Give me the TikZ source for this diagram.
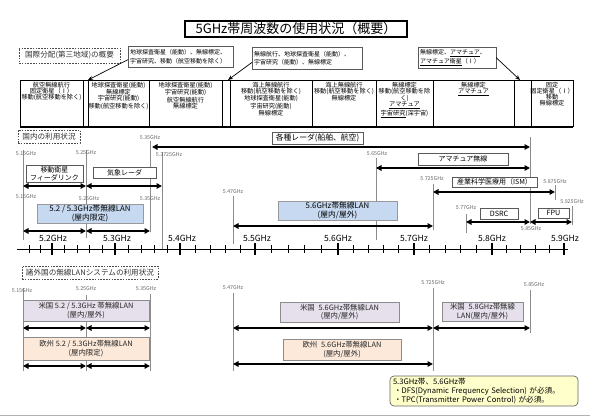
\documentclass[tikz,border=0pt]{standalone}
\usepackage{fontspec}
\setmainfont{Noto Sans CJK JP}
\usetikzlibrary{arrows.meta,calc}
\definecolor{lanblue}{HTML}{C6D9F1}
\definecolor{uslav}{HTML}{E6E0EC}
\definecolor{eupeach}{HTML}{FDE9D9}
\definecolor{noteyel}{HTML}{FFFFCC}
\newcommand{\fs}[2]{\fontsize{#1}{#2}\selectfont}
\newcommand{\farrow}[4]{\coordinate (#1-l) at (#2,#4); \coordinate (#1-r) at (#3,#4); \draw[dar] (#1-l) -- (#1-r);}
\begin{document}
\begin{tikzpicture}[x=1pt,y=-1pt,
  every node/.style={inner sep=0pt,outer sep=0pt},
  fl/.style={font=\fs{5.3}{6}, text=black!60},
  vl/.style={draw=black!45, line width=0.7pt},
  dar/.style={line width=1.4pt, >={Triangle[length=5.5pt,width=5.5pt]}, <->},
  bx/.style={draw=black!65, line width=0.6pt, fill=white, anchor=north west, align=center, font=\fs{7}{8}},
  lanbx/.style={bx, fill=lanblue, draw=black!40, font=\fs{7.8}{8.8}},
  usbx/.style={bx, fill=uslav, draw=black!45, font=\fs{7.4}{8.6}, text=black!85},
  eubx/.style={bx, fill=eupeach, draw=black!45, font=\fs{7.4}{8.6}, text=black!85},
  dbox/.style={draw=black!70, dash pattern=on 1.6pt off 1.2pt, line width=0.7pt, anchor=north west, font=\fs{7.6}{8}, text=black!80},
  allocbx/.style={draw=black!65, line width=0.6pt, anchor=north west, align=left, font=\fs{6}{8.5}, inner xsep=2pt},
  tcol/.style={anchor=north, align=center, font=\fs{6.2}{6.1}},
  axl/.style={font=\fs{8.5}{9}},
  parr/.style={line width=0.7pt, -{Stealth[length=5pt,width=4pt]}},
]
\useasboundingbox (0,0) rectangle (590,417);

% title
\node[draw, line width=1.2pt, minimum width=222pt, minimum height=16pt, anchor=north west, font=\fs{13}{14}] (title) at (185,21) {5GHz帯周波数の使用状況（概要）};

% international allocation
\node[dbox, minimum width=101pt, minimum height=15pt] (intl) at (19,48) {国際分配(第三地域)の概要};
\node[allocbx, text width=101pt, minimum height=21pt] (allocA) at (128,46) {地球探査衛星（能動）、無線標定、\\宇宙研究、移動（航空移動を除く）};
\node[allocbx, text width=106pt, minimum height=22pt] (allocB) at (252,47) {無線航行、地球探査衛星（能動）、\\宇宙研究（能動）、無線標定};
\node[allocbx, text width=74pt, minimum height=21pt] (allocC) at (418,47) {無線標定、\underline{アマチュア}、\\\underline{アマチュア衛星}（Ⅰ）};
\coordinate (tA) at (88,80);
\coordinate (tB) at (228,80);
\coordinate (tC) at (520,80);
\draw[parr] ($(allocA.south west)!0.35!(allocA.north west)$) -- (tA);
\draw[parr] ($(allocB.south west)!0.3!(allocB.north west)$) -- (tB);
\draw[parr] (allocC.east) -- (tC);

% table
\draw[line width=0.8pt] (20,80) -- (573,80);
\draw[line width=1.6pt] (20,127) -- (573,127);
\foreach \x in {20,83,88,149,222,230,312,376,433,514,531,573} \draw[line width=0.8pt] (\x,80) -- (\x,127);
\node[tcol] (c1) at (51.5,82) {航空無線航行\\固定衛星（Ⅰ）\\移動(航空移動を除く)};
\node[tcol] (c2) at (118.5,82) {地球探査衛星(能動)\\無線標定\\宇宙研究(能動)\\移動(航空移動を除く)};
\node[tcol] (c3) at (185.5,82) {地球探査衛星(能動)\\宇宙研究(能動)\\航空無線航行\\無線標定};
\node[tcol] (c4) at (271,82) {海上無線航行\\移動(航空移動を除く)\\地球探査衛星(能動)\\宇宙研究(能動)\\無線標定};
\node[tcol] (c5) at (344,82) {海上無線航行\\移動(航空移動を除く)\\無線標定};
\node[tcol] (c6) at (404.5,82) {無線標定\\移動(航空移動を除\\く)\\\underline{アマチュア}\\\underline{宇宙研究}(深宇宙)};
\node[tcol] (c7) at (473.5,82) {無線標定\\\underline{アマチュア}};
\node[tcol] (c9) at (552,82) {固定\\固定衛星（Ⅰ）\\移動\\無線標定};

% domestic
\node[dbox, minimum width=62pt, minimum height=13pt] (dom) at (18,130) {国内の利用状況};

\draw[vl] (23,150) -- (23,240);
\draw[vl] (86,150) -- (86,238);
\draw[vl] (150,141) -- (150,232);
\draw[vl] (162,152) -- (162,249);
\draw[vl] (233,196) -- (233,244);
\draw[vl] (376,158) -- (376,240);
\draw[vl] (433,184) -- (433,230);
\draw[vl] (466,214) -- (466,233);
\draw[vl] (530,137) -- (530,224);
\draw[vl] (555,185) -- (555,200);
\draw[vl] (572,206) -- (572,225);

\node[fl] (l1) at (150,138) {5.35GHz};
\node[fl] (l2) at (26,154) {5.15GHz};
\node[fl] (l3) at (86,153) {5.25GHz};
\node[fl] (l4) at (169,155) {5.3725GHz};
\node[fl] (l5) at (377,154) {5.65GHz};
\node[fl] (l6) at (432,179) {5.725GHz};
\node[fl] (l7) at (555,182) {5.875GHz};
\node[fl] (l8) at (26,197) {5.15GHz};
\node[fl] (l9) at (89,199) {5.25GHz};
\node[fl] (l10) at (150,199) {5.35GHz};
\node[fl] (l11) at (233,192) {5.47GHz};
\node[fl] (l12) at (572,202) {5.925GHz};
\node[fl] (l13) at (466,208) {5.77GHz};
\node[fl] (l14) at (531,229) {5.85GHz};

\node[bx, minimum width=91pt, minimum height=12pt, font=\fs{7.8}{8}] (radar) at (272,132) {各種レーダ(船舶、航空)};
\node[bx, minimum width=57pt, minimum height=17pt] (mss) at (26,165) {移動衛星\\フィーダリンク};
\node[bx, minimum width=63pt, minimum height=11pt] (wx) at (93,167) {気象レーダ};
\node[bx, minimum width=90pt, minimum height=12pt] (ama) at (418,153) {アマチュア無線};
\node[bx, minimum width=85pt, minimum height=10pt] (ism) at (452,177) {産業科学医療用（ISM）};
\node[bx, minimum width=38pt, minimum height=11pt, font=\fs{7.2}{8}] (dsrc) at (480,208) {DSRC};
\node[bx, minimum width=31pt, minimum height=10pt, font=\fs{7.2}{8}] (fpu) at (538,208) {FPU};
\node[lanbx, minimum width=106pt, minimum height=19pt] (lan1) at (37,204) {5.2 / 5.3GHz帯無線LAN\\(屋内限定)};
\node[lanbx, minimum width=119pt, minimum height=19pt] (lan2) at (278,201) {5.6GHz帯無線LAN\\(屋内/屋外)};

\farrow{radar}{152}{530}{147}
\farrow{amat}{376}{530}{168}
\farrow{mssa}{23}{86}{186}
\farrow{wxa}{86}{162}{186}
\farrow{isma}{433}{555}{192}
\farrow{dsrca}{466}{530}{222}
\farrow{fpua}{530}{572}{222}
\farrow{lanA}{23}{86}{231}
\farrow{lanB}{86}{150}{231}
\farrow{lanC}{233}{433}{226}

% axis
\draw[line width=0.9pt] (17,249) -- (568,249);
\foreach \x in {52,115,180,255,338,414,492,564} \draw[line width=1.5pt] (\x,243) -- (\x,255);
\foreach \x in {29,40.5} \draw[line width=0.7pt] (\x,245) -- (\x,253);
\foreach \a/\b in {52/115,115/180,180/255,255/338,338/414,414/492,492/564}
  \foreach \k in {1,2,3,4} \draw[line width=0.7pt] ({\a+\k*(\b-\a)/5},245) -- ({\a+\k*(\b-\a)/5},253);
\node[axl] (g52) at (53,238) {5.2GHz};
\node[axl] (g53) at (117,238) {5.3GHz};
\node[axl] (g54) at (182,238) {5.4GHz};
\node[axl] (g55) at (257,238) {5.5GHz};
\node[axl] (g56) at (338,238) {5.6GHz};
\node[axl] (g57) at (414,238) {5.7GHz};
\node[axl] (g58) at (492,238) {5.8GHz};
\node[axl] (g59) at (565,238) {5.9GHz};

% foreign
\node[dbox, minimum width=136pt, minimum height=13pt] (frn) at (22,266) {諸外国の無線LANシステムの利用状況};
\draw[vl] (23,288) -- (23,371);
\draw[vl] (86,295) -- (86,371);
\draw[vl] (150,294) -- (150,371);
\draw[vl] (233,293) -- (233,371);
\draw[vl] (433,288) -- (433,371);
\draw[vl] (530,290) -- (530,333);
\node[fl] (m1) at (22,291) {5.15GHz};
\node[fl] (m2) at (86,289) {5.25GHz};
\node[fl] (m3) at (146,289) {5.35GHz};
\node[fl] (m4) at (233,288) {5.47GHz};
\node[fl] (m5) at (433,283) {5.725GHz};
\node[fl] (m6) at (534,285) {5.85GHz};

\node[usbx, minimum width=126pt, minimum height=21pt] (us1) at (23,300) {米国 5.2 / 5.3GHz 帯無線LAN\\(屋内/屋外)};
\node[eubx, minimum width=126pt, minimum height=23pt] (eu1) at (23,337) {欧州 5.2 / 5.3GHz帯無線LAN\\(屋内限定)};
\node[usbx, minimum width=119pt, minimum height=20pt] (us2) at (280,302) {米国\enspace 5.6GHz帯無線LAN\\(屋内/屋外)};
\node[eubx, minimum width=118pt, minimum height=21pt] (eu2) at (283,339) {欧州\enspace 5.6GHz帯無線LAN\\(屋内/屋外)};
\node[usbx, minimum width=81pt, minimum height=19pt] (us3) at (442,302) {米国\enspace 5.8GHz帯無線\\LAN(屋内/屋外)};

\farrow{usA}{23}{86}{328}
\farrow{usB}{86}{150}{328}
\farrow{usC}{233}{433}{328}
\farrow{usD}{433}{530}{328}
\farrow{euA}{23}{86}{366}
\farrow{euB}{86}{150}{366}
\farrow{euC}{233}{433}{364}

% note
\node[draw=black!60, line width=0.7pt, fill=noteyel, rounded corners=4pt, anchor=north west, minimum width=188pt, minimum height=30pt, text width=182pt, inner xsep=3pt, align=left, font=\fs{7.6}{9}] (note) at (390,376) {5.3GHz帯、5.6GHz帯\\\hspace*{1pt}・DFS(Dynamic Frequency Selection) が必須。\\\hspace*{1pt}・TPC(Transmitter Power Control) が必須。};

\draw[black!30, line width=1pt] (0,415.5) -- (590,415.5);
\end{tikzpicture}
\end{document}
